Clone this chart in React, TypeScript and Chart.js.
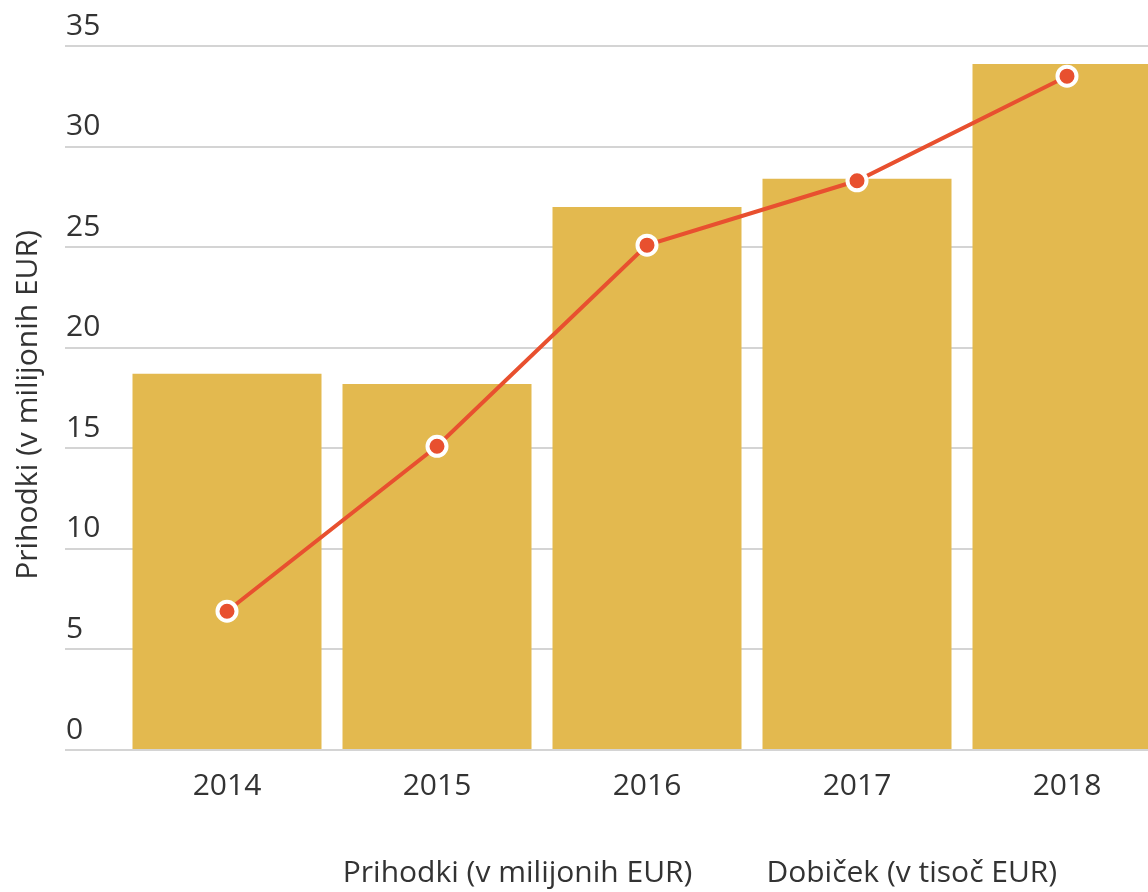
import React, { useEffect, useRef } from 'react';
import { Chart, registerables } from 'chart.js';

Chart.register(...registerables);

const years = ['2014', '2015', '2016', '2017', '2018'];
const revenue = [18.7, 18.2, 27.0, 28.4, 34.1];
const profit = [6.9, 15.1, 25.1, 28.3, 33.5];
const revenueLabel = 'Prihodki (v milijonih EUR)';
const profitLabel = 'Dobiček (v tisoč EUR)';
const yMin = 0;
const yMax = 35;
const yStep = 5;

const FONT = { family: "'Open Sans', sans-serif", size: 30 };
const TEXT = '#333333';
const GRID = '#d4d4d4';

const shiftTitle = {
  id: 'shiftTitle',
  afterLayout(chart: any) {
    const s = chart.scales.yTitle;
    if (s) {
      s.top += 7;
      s.bottom += 7;
    }
  },
};

export default function App() {
  const ref = useRef<HTMLCanvasElement>(null);

  useEffect(() => {
    if (!ref.current) return;
    const chart = new Chart(ref.current, {
      type: 'bar',
      data: {
        labels: years,
        datasets: [
          {
            type: 'bar',
            label: revenueLabel,
            data: revenue,
            backgroundColor: '#E3B94F',
            borderWidth: 0,
            barPercentage: 0.9,
            categoryPercentage: 1,
            order: 2,
            yAxisID: 'y',
          },
          {
            type: 'line',
            label: profitLabel,
            data: profit,
            borderColor: '#E8502F',
            borderWidth: 4,
            pointRadius: 9.5,
            pointHoverRadius: 9.5,
            pointBorderWidth: 4,
            pointBackgroundColor: '#E8502F',
            pointBorderColor: '#ffffff',
            tension: 0,
            fill: false,
            order: 1,
            yAxisID: 'y',
          },
        ] as any,
      },
      plugins: [shiftTitle],
      options: {
        animation: false,
        responsive: true,
        maintainAspectRatio: false,
        layout: { padding: { top: 46, left: 0, right: 0, bottom: 0 } },
        plugins: {
          tooltip: { enabled: false },
          legend: {
            display: true,
            position: 'bottom',
            align: 'center',
            labels: {
              font: FONT,
              color: TEXT,
              boxWidth: 49,
              boxHeight: 30,
              padding: 10,
              generateLabels: (c: any) =>
                c.data.datasets.map((ds: any, i: number) => ({
                  text: ds.label,
                  datasetIndex: i,
                  fillStyle: 'rgba(0,0,0,0)',
                  strokeStyle: 'rgba(0,0,0,0)',
                  lineWidth: 0,
                  hidden: false,
                  fontColor: TEXT,
                })),
            },
          },
        },
        scales: {
          x: {
            type: 'category',
            position: 'bottom',
            grid: { display: false, drawTicks: false },
            border: { display: true, color: GRID, width: 2 },
            ticks: { font: FONT, color: TEXT, padding: 18, maxRotation: 0 },
            afterFit: (s: any) => {
              s.height = 98;
            },
          },
          y: {
            type: 'linear',
            position: 'left',
            min: yMin,
            max: yMax,
            ticks: {
              stepSize: yStep,
              font: FONT,
              color: TEXT,
              crossAlign: 'far',
              labelOffset: -20,
            },
            grid: { color: GRID, lineWidth: 2, tickLength: 57, drawTicks: true },
            border: { display: false },
            afterFit: (s: any) => {
              s.width = 56;
            },
          },
          yTitle: {
            type: 'linear',
            position: 'left',
            weight: 10,
            display: true,
            ticks: { display: false },
            grid: { display: false, drawTicks: false },
            border: { display: false },
            title: {
              display: true,
              text: revenueLabel,
              font: FONT,
              color: TEXT,
              padding: { top: 10, bottom: 0 },
            },
            afterFit: (s: any) => {
              s.width = 66;
            },
          },
          y1: {
            type: 'linear',
            position: 'right',
            display: true,
            ticks: { display: false },
            grid: { display: false, drawTicks: false },
            border: { display: false },
            afterFit: (s: any) => {
              s.width = 164;
            },
          },
        } as any,
      },
    });
    return () => chart.destroy();
  }, []);

  return (
    <div
      style={{
        position: 'fixed',
        left: 0,
        top: 0,
        width: 1148,
        height: 892,
        overflow: 'hidden',
        background: '#ffffff',
      }}
    >
      <div style={{ position: 'relative', width: 1336, height: 898 }}>
        <canvas ref={ref} />
      </div>
    </div>
  );
}
